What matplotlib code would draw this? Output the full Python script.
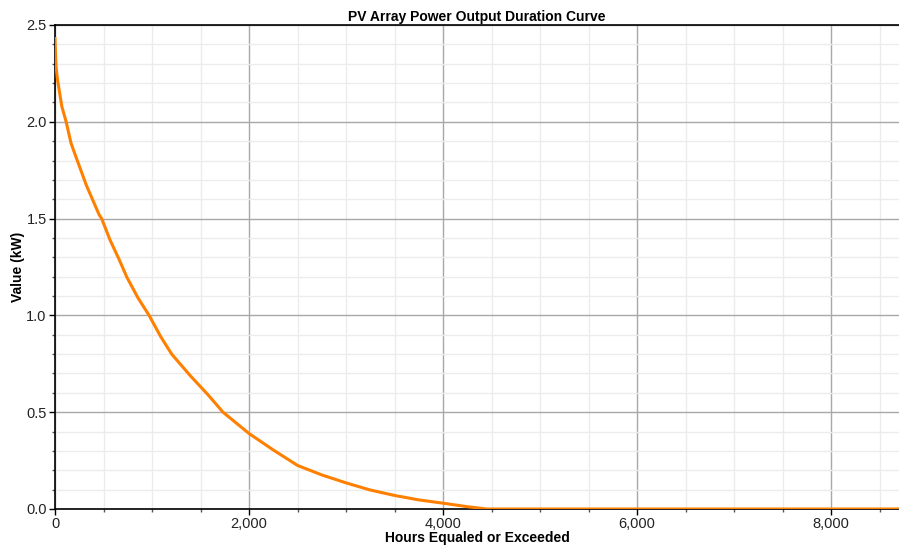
import numpy as np
import matplotlib.pyplot as plt
from matplotlib.ticker import MultipleLocator, FuncFormatter

plt.rcParams['font.family'] = ['Liberation Sans', 'DejaVu Sans']

# duration curve (hours, kW)
hours = [0, 10, 25, 70, 115, 165, 215, 325, 455, 481, 567, 660, 742, 856, 970,
         1090, 1203, 1392, 1577, 1732, 2000, 2250, 2500, 2750, 3000, 3250,
         3500, 3750, 4000, 4250, 4450, 8760]
power = [2.43, 2.29, 2.22, 2.08, 2.0, 1.89, 1.82, 1.67, 1.52, 1.5, 1.39, 1.29,
         1.196, 1.09, 1.0, 0.89, 0.80, 0.69, 0.59, 0.50, 0.39, 0.305, 0.225,
         0.176, 0.135, 0.098, 0.07, 0.047, 0.03, 0.012, 0.0, 0.0]

fig = plt.figure(figsize=(8.99, 5.49), dpi=100)
ax = fig.add_axes([55 / 899, 1 - 509 / 549, 1 - 55 / 899, (509 - 25) / 549])

ax.plot(hours, power, color='#ff8000', lw=2.2, solid_joinstyle='miter', zorder=3)

ax.set_xlim(0, 8700)
ax.set_ylim(0, 2.5)
ax.xaxis.set_major_locator(MultipleLocator(2000))
ax.xaxis.set_minor_locator(MultipleLocator(500))
ax.yaxis.set_major_locator(MultipleLocator(0.5))
ax.yaxis.set_minor_locator(MultipleLocator(0.1))
ax.xaxis.set_major_formatter(FuncFormatter(lambda v, p: f'{int(v):,}'))
ax.yaxis.set_major_formatter(FuncFormatter(lambda v, p: f'{v:.1f}'))

ax.grid(which='major', color='#a8a8a8', lw=1.0)
ax.grid(which='minor', color='#ececec', lw=1.0)
ax.set_axisbelow(True)

ax.spines['right'].set_visible(False)
for s in ['left', 'bottom', 'top']:
    ax.spines[s].set_color('black')
    ax.spines[s].set_linewidth(1.2)

ax.tick_params(which='major', length=4, width=1, labelsize=10.5, colors='black',
               labelcolor='#222222', pad=2)
ax.tick_params(which='minor', length=2.5, width=1, colors='#555555')

ax.set_title('PV Array Power Output Duration Curve', fontsize=10,
             fontweight='bold', pad=3)
ax.set_xlabel('Hours Equaled or Exceeded', fontsize=10, fontweight='bold',
              labelpad=0)
ax.set_ylabel('Value (kW)', fontsize=10, fontweight='bold')
ax.yaxis.set_label_coords(-0.036, 0.5)

fig.savefig('out.png', dpi=100)
